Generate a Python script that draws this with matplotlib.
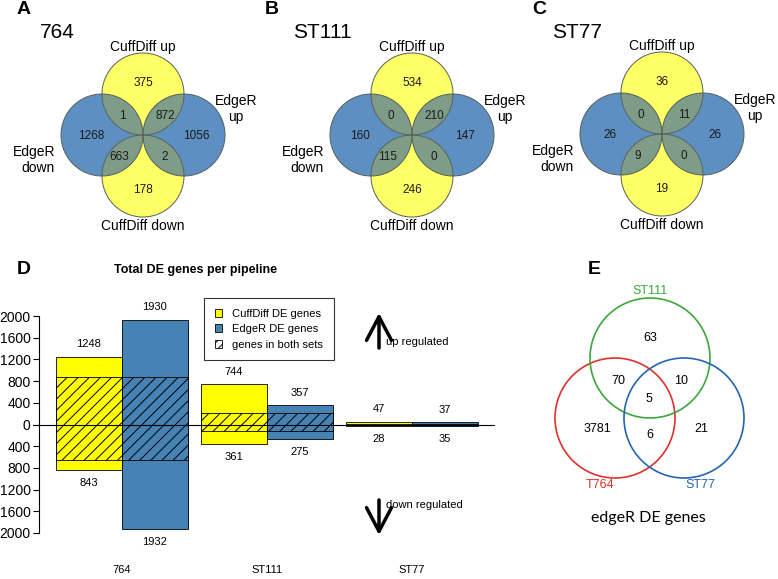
import numpy as np
import matplotlib.pyplot as plt
from matplotlib.patches import Circle, Patch

plt.rcParams['font.family'] = ['Liberation Sans', 'DejaVu Sans']
plt.rcParams['hatch.linewidth'] = 0.7

W, H = 778, 579

############################ data #############################################
samples = ['764', 'ST111', 'ST77']
# 4-way venn regions (A, B, C)
cuff_up_only = [375, 534, 36]
cuff_down_only = [178, 246, 19]
edger_up_only = [1056, 147, 26]
edger_down_only = [1268, 160, 26]
cuffup_edgerdown = [1, 0, 0]
cuffup_edgerup = [872, 210, 11]
cuffdown_edgerdown = [663, 115, 9]
cuffdown_edgerup = [2, 0, 0]

# totals per pipeline (D)
cuff_up = [1248, 744, 47]
cuff_down = [843, 361, 28]
edger_up = [1930, 357, 37]
edger_down = [1932, 275, 35]
both_up = [872, 210, 11]
both_down = [663, 115, 9]

# edgeR 3-way venn (E)
e_sets = ['T764', 'ST111', 'ST77']
e_only = [3781, 63, 21]
e_764_111 = 70
e_111_77 = 10
e_764_77 = 6
e_all = 5

yellow_v = '#FFFF66'
blue_v = '#5D8FC2'
mix_v = '#7E9C88'


def fpx(x, y):
    return (x / W, 1 - y / H)


fig = plt.figure(figsize=(W / 100, H / 100), dpi=100)
cv = fig.add_axes([0, 0, 1, 1])
cv.set_xlim(0, W)
cv.set_ylim(H, 0)
cv.axis('off')
cv.patch.set_alpha(0)

################################ A, B, C ######################################
crosses = [(143, 135), (412, 135), (662, 134)]
name_x = [40, 293, 552]
letter_x = [17, 265, 532]
R = 41
for i, (cx, cy) in enumerate(crosses):
    up = Circle((cx, cy - R), R, fc=yellow_v, ec='none')
    down = Circle((cx, cy + R), R, fc=yellow_v, ec='none')
    left = Circle((cx - R, cy), R, fc=blue_v, ec='none')
    right = Circle((cx + R, cy), R, fc=blue_v, ec='none')
    for p in [left, right, up, down]:
        cv.add_patch(p)
    for yc in [up, down]:
        for bc in [left, right]:
            ov = Circle(yc.center, R, fc=mix_v, ec='none')
            cv.add_patch(ov)
            ov.set_clip_path(bc)
    for c in [(cx, cy - R), (cx, cy + R), (cx - R, cy), (cx + R, cy)]:
        cv.add_patch(Circle(c, R, fc='none', ec='#55605a', lw=0.7))
    nums = [(0, -52, cuff_up_only[i]), (0, 55, cuff_down_only[i]),
            (-52, 1, edger_down_only[i]), (53, 1, edger_up_only[i]),
            (-21, -19, cuffup_edgerdown[i]), (22, -19, cuffup_edgerup[i]),
            (-24, 22, cuffdown_edgerdown[i]), (22, 22, cuffdown_edgerup[i])]
    for dx, dy, v in nums:
        cv.text(cx + dx, cy + dy, str(v), ha='center', va='center', fontsize=8.5, color='#1a1a1a')
    cv.text(cx, cy - 88, 'CuffDiff up', ha='center', va='center', fontsize=10)
    cv.text(cx, cy + 91, 'CuffDiff down', ha='center', va='center', fontsize=10)
    cv.text(cx - 88, cy + 25, 'EdgeR\ndown', ha='right', va='center', fontsize=10,
            multialignment='right', linespacing=1.1)
    cv.text(cx + 93, cy - 26, 'EdgeR\nup', ha='center', va='center', fontsize=10,
            multialignment='center', linespacing=1.1)
    cv.text(name_x[i], 33, samples[i], ha='left', va='center', fontsize=15)
    cv.text(letter_x[i], 10, 'ABC'[i], ha='left', va='center', fontsize=14, fontweight='bold')

#################################### E ########################################
e_cent = [(615, 418), (650, 358), (684, 418)]
e_cols = ['#E0302A', '#3DA63D', '#2465AE']
for c, col in zip(e_cent, e_cols):
    cv.add_patch(Circle(c, 60, fc='none', ec=col, lw=1.2))
cv.text(600, 485, e_sets[0], color=e_cols[0], ha='center', va='center', fontsize=9)
cv.text(650, 291, e_sets[1], color=e_cols[1], ha='center', va='center', fontsize=9)
cv.text(700, 485, e_sets[2], color=e_cols[2], ha='center', va='center', fontsize=9)
e_pos = [(597, 429), (650, 338), (701, 429)]
for (x, y), v in zip(e_pos, e_only):
    cv.text(x, y, str(v), ha='center', va='center', fontsize=9)
for (x, y), v in zip([(618, 381), (681, 381), (650, 435), (649, 399)],
                     [e_764_111, e_111_77, e_764_77, e_all]):
    cv.text(x, y, str(v), ha='center', va='center', fontsize=9)
cv.text(648, 518, 'edgeR DE genes', ha='center', va='center', fontsize=11.5, family='Lato')
cv.text(588, 270, 'E', ha='left', va='center', fontsize=14, fontweight='bold')

#################################### D ########################################
ax = fig.add_axes([33 / W, 1 - 533 / H, (495 - 33) / W, (533 - 316) / H])
ax.patch.set_alpha(0)
x_cuff = np.arange(3) * 2.2 + 0.2
x_edge = x_cuff + 1
ax.bar(x_cuff, cuff_up, width=1, align='edge', color='yellow', edgecolor='black', lw=0.6)
ax.bar(x_cuff, -np.array(cuff_down), width=1, align='edge', color='yellow', edgecolor='black', lw=0.6)
ax.bar(x_edge, edger_up, width=1, align='edge', color='steelblue', edgecolor='black', lw=0.6)
ax.bar(x_edge, -np.array(edger_down), width=1, align='edge', color='steelblue', edgecolor='black', lw=0.6)
for xs in [x_cuff, x_edge]:
    ax.bar(xs, np.array(both_up) + np.array(both_down), bottom=-np.array(both_down), width=1,
           align='edge', fill=False, hatch='///', edgecolor='black', lw=0.6)
ax.axhline(0, color='black', lw=0.8)
for xs, ups, downs in [(x_cuff, cuff_up, cuff_down), (x_edge, edger_up, edger_down)]:
    for x, u, d in zip(xs, ups, downs):
        ax.annotate(str(u), (x + 0.5, u), xytext=(0, 9), textcoords='offset points',
                    ha='center', va='center', fontsize=8)
        ax.annotate(str(d), (x + 0.5, -d), xytext=(0, -9), textcoords='offset points',
                    ha='center', va='center', fontsize=8)
ax.set_xlim(-0.15, 6.86)
ax.set_ylim(-2000, 2000)
yt = np.arange(-2000, 2001, 400)
ax.set_yticks(yt)
ax.set_yticklabels([str(abs(v)) for v in yt], fontsize=8)
ax.set_xticks(x_edge)
ax.set_xticklabels(samples, fontsize=8)
ax.tick_params(axis='x', length=0, pad=23)
ax.tick_params(axis='y', length=4, width=0.8, pad=2)
for s in ['top', 'right', 'bottom']:
    ax.spines[s].set_visible(False)
ax.spines['left'].set_position(('data', -0.06))
ax.spines['left'].set_linewidth(0.8)

handles = [Patch(fc='yellow', ec='black', lw=0.6), Patch(fc='steelblue', ec='black', lw=0.6),
           Patch(fc='white', ec='black', lw=0.6, hatch='////')]
leg = fig.legend(handles, ['CuffDiff DE genes', 'EdgeR DE genes', 'genes in both sets'],
                 loc='upper left', bbox_to_anchor=fpx(204, 298), fontsize=8, frameon=True,
                 fancybox=False, edgecolor='black', handlelength=0.7, handleheight=0.7,
                 handletextpad=0.9, labelspacing=0.5, borderpad=0.95, borderaxespad=0)
leg.get_frame().set_linewidth(0.8)

fig.text(*fpx(196, 270), 'Total DE genes per pipeline', ha='center', va='center',
         fontsize=9, fontweight='bold')
fig.text(*fpx(17, 270), 'D', ha='left', va='center', fontsize=14, fontweight='bold')

arr = dict(arrowstyle='->, head_length=1.7, head_width=0.9', lw=2.5, color='black',
           mutation_scale=10, shrinkA=0, shrinkB=0)
cv.annotate('', xy=(379, 313), xytext=(379, 348), arrowprops=arr)
cv.annotate('', xy=(379, 535), xytext=(379, 500), arrowprops=arr)
cv.text(386, 342, 'up regulated', ha='left', va='center', fontsize=8)
cv.text(386, 505, 'down regulated', ha='left', va='center', fontsize=8)

plt.savefig('out.png', dpi=100)
